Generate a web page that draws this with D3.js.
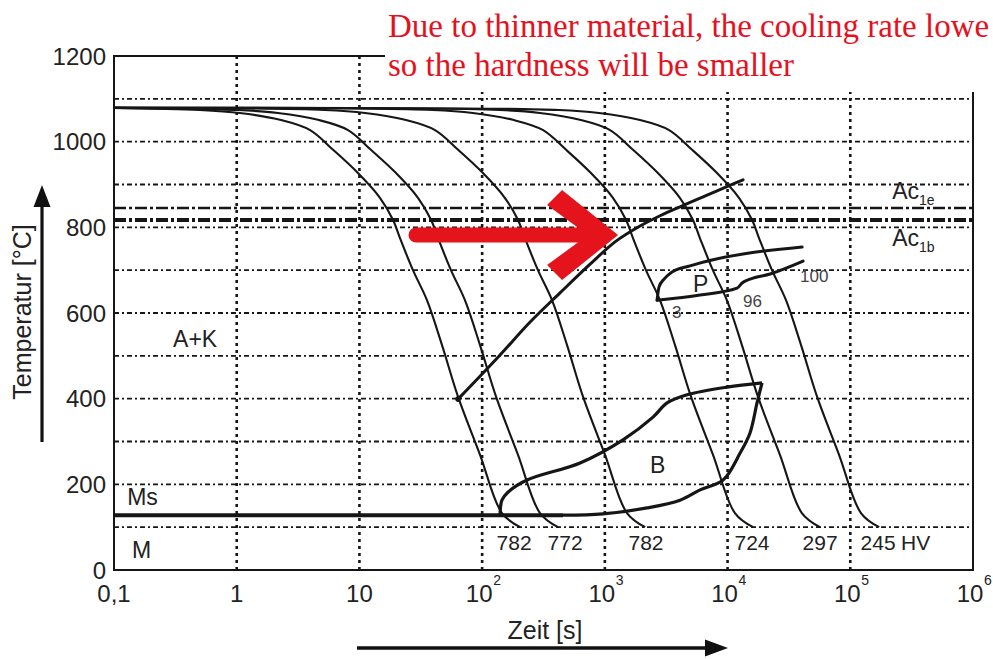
<!DOCTYPE html>
<html>
<head>
<meta charset="utf-8">
<script src="https://cdn.jsdelivr.net/npm/d3@7"></script>
<style>
  body { margin: 0; background: #fff; }
  svg { display: block; font-family: "Liberation Sans", Arial, sans-serif; }
</style>
</head>
<body>
<div id="chart"></div>
<script>
// CCT diagram (Zeit-Temperatur-Umwandlung, kontinuierlich)

const TIME_TICKS = [0.1, 1, 10, 1e2, 1e3, 1e4, 1e5, 1e6];
const TIME_TICK_BASE = ["0,1", "1", "10", "10", "10", "10", "10", "10"];
const TIME_TICK_EXP = ["", "", "", "2", "3", "4", "5", "6"];
const TIME_GRID = [1, 10, 1e2, 1e3, 1e4, 1e5];
const TEMP_TICKS = [0, 200, 400, 600, 800, 1000, 1200];
const TEMP_GRID = [100, 200, 300, 400, 500, 600, 700, 800, 900, 1000, 1100];

const AC1E = 845;
const AC1B = 817;
const MS_TEMP = 128;
const MS_END = 456;

// cooling curves [time s, temp °C]
const CURVE_1 = [[0.1,1079],[0.5,1074],[1.06,1067],[2.25,1051],[3.96,1027],[6.1,981],[9.55,929],[14.7,869],[18.8,817],[21.4,775],[27.3,700],[35.5,630],[47.1,525],[63.7,404],[96.1,269],[145,133],[204,100]];
const CURVE_2 = [[0.1,1079],[1.02,1074],[2.16,1067],[4.59,1051],[8.08,1027],[12.4,981],[19.5,929],[30,869],[38.4,817],[43.7,775],[55.7,700],[72.4,630],[96.1,525],[130,404],[196,269],[296,133],[416,100]];
const CURVE_3 = [[0.1,1079],[5.22,1074],[11.1,1067],[23.5,1051],[41.3,1027],[63.7,981],[99.7,929],[153,869],[196,817],[223,775],[285,700],[371,630],[492,525],[665,404],[1003,269],[1514,133],[2130,100]];
const CURVE_4 = [[0.1,1079],[39.6,1074],[84,1067],[178,1051],[314,1027],[483,981],[756,929],[1164,869],[1489,817],[1695,775],[2162,700],[2812,630],[3730,525],[5045,404],[7611,269],[11480,133],[16160,100]];
const CURVE_5 = [[0.1,1079],[139,1074],[295,1067],[626,1051],[1101,1027],[1696,981],[2655,929],[4087,869],[5226,817],[5949,775],[7589,700],[9869,630],[13090,525],[17710,404],[26720,269],[40310,133],[56710,100]];
const CURVE_6 = [[0.1,1079],[422,1074],[894,1067],[1897,1051],[3338,1027],[5142,981],[8051,929],[12390,869],[15850,817],[18040,775],[23010,700],[29930,630],[39710,525],[53700,404],[81010,269],[122200,133],[172000,100]];
const CURVES = [CURVE_1, CURVE_2, CURVE_3, CURVE_4, CURVE_5, CURVE_6];

const HARDNESS = ["782", "772", "782", "724", "297", "245"];
const HARDNESS_TIME = [182, 474, 2166, 15830, 56750, 168500];

// transformation lines
const FERRITE_START = [[63.6,399],[140,502],[246,579],[431,647],[758,714],[1211,766],[1936,803],[2818,827],[4102,848],[7201,878],[13375,911]];
const PEARLITE_START = [[2664,630],[2765,661],[3037,679],[3529,696],[4947,710],[40480,754]];
const PEARLITE_END = [[2664,630],[5968,642],[11950,658],[13130,670],[15260,679],[22210,691],[41240,721]];
const BAINITE_START = [[140,128],[145,163],[163,182],[232,210],[628,250],[1406,304],[2470,357],[3215,390],[4677,409],[9910,427],[19090,437]];
const BAINITE_END = [[456,128],[966,131],[2210,145],[4100,163],[5970,187],[9190,210],[12650,273],[15240,320],[17380,390],[19090,437]];

// text anchors [time, temp]
const REGION_LABELS = [
  { text: "A+K", t: 0.303, T: 521 },
  { text: "Ms", t: 0.128, T: 152 },
  { text: "M", t: 0.14, T: 28 },
  { text: "B", t: 2334, T: 226 },
  { text: "P", t: 5236, T: 649 }
];
const PCT_LABELS = [
  { text: "3", t: 3532, T: 588 },
  { text: "96", t: 13370, T: 614 },
  { text: "100", t: 38990, T: 672 }
];
const AC_LABEL_TIME = 219300;
const AC_LABEL_TEMP = [866, 756];
const AC_LABEL_SUB = ["1e", "1b"];

// red annotation arrow [time, temp]
const ARROW_SHAFT = [[28.9,782],[832,782]];
const ARROW_HEAD = [[338,852],[448,887],[1281,782],[448,677],[338,712],[729,782]];
const NOTE_LINES = ["Due to thinner material, the cooling rate lowe", "so the hardness will be smaller"];

const W = 993, H = 659;
const margin = { top: 56, right: 20, bottom: 89, left: 114 };

const svg = d3.select("#chart").append("svg").attr("width", W).attr("height", H);
svg.append("rect").attr("width", W).attr("height", H).attr("fill", "#fff");

const x = d3.scaleLog().domain([0.1, 1e6]).range([margin.left, W - margin.right]);
const y = d3.scaleLinear().domain([0, 1200]).range([H - margin.bottom, margin.top]);

const ink = "#161616";

// grid
svg.append("g").selectAll("line").data(TEMP_GRID).join("line")
  .attr("x1", x(0.1)).attr("x2", x(1e6))
  .attr("y1", d => y(d)).attr("y2", d => y(d))
  .attr("stroke", ink).attr("stroke-width", 1.8)
  .attr("stroke-dasharray", "5,3,2,3");

svg.append("g").selectAll("line").data(TIME_GRID).join("line")
  .attr("x1", d => x(d)).attr("x2", d => x(d))
  .attr("y1", y(0)).attr("y2", y(1200))
  .attr("stroke", ink).attr("stroke-width", 2.6)
  .attr("stroke-dasharray", "3,4");

// Ac lines
[AC1E, AC1B].forEach((t, i) => {
  svg.append("line")
    .attr("x1", x(0.1)).attr("x2", x(1e6))
    .attr("y1", y(t)).attr("y2", y(t))
    .attr("stroke", ink).attr("stroke-width", i === 0 ? 2.6 : 4)
    .attr("stroke-dasharray", "12,3,3,3");
});

// frame
svg.append("rect")
  .attr("x", x(0.1)).attr("y", y(1200))
  .attr("width", x(1e6) - x(0.1)).attr("height", y(0) - y(1200))
  .attr("fill", "none").attr("stroke", ink).attr("stroke-width", 2);

const line = d3.line().x(d => x(d[0])).y(d => y(d[1])).curve(d3.curveMonotoneX);
const smooth = d3.line().x(d => x(d[0])).y(d => y(d[1])).curve(d3.curveCatmullRom.alpha(0.5));

// cooling curves
svg.append("g").selectAll("path").data(CURVES).join("path")
  .attr("d", smooth)
  .attr("fill", "none").attr("stroke", ink).attr("stroke-width", 2.1);

// Ms line
svg.append("line")
  .attr("x1", x(0.1)).attr("x2", x(MS_END))
  .attr("y1", y(MS_TEMP)).attr("y2", y(MS_TEMP))
  .attr("stroke", ink).attr("stroke-width", 4);

// transformation lines
[FERRITE_START, PEARLITE_START, PEARLITE_END].forEach(d => {
  svg.append("path").datum(d).attr("d", line)
    .attr("fill", "none").attr("stroke", ink).attr("stroke-width", 3)
    .attr("stroke-linecap", "round");
});
[BAINITE_START, BAINITE_END].forEach(d => {
  svg.append("path").datum(d).attr("d", smooth)
    .attr("fill", "none").attr("stroke", ink).attr("stroke-width", 3.2)
    .attr("stroke-linejoin", "round");
});
svg.append("circle")
  .attr("cx", x(FERRITE_START[0][0])).attr("cy", y(FERRITE_START[0][1]))
  .attr("r", 2.8).attr("fill", ink);

// hardness labels
svg.append("g").selectAll("text").data(HARDNESS).join("text")
  .attr("x", (d, i) => x(HARDNESS_TIME[i]))
  .attr("y", y(46))
  .attr("text-anchor", "middle")
  .style("font-size", "21px").attr("fill", "#222")
  .text(d => d);
svg.append("text")
  .attr("x", x(HARDNESS_TIME[5]) + 23).attr("y", y(46))
  .style("font-size", "21px").attr("fill", "#222")
  .text("HV");

// region labels
svg.append("g").selectAll("text").data(REGION_LABELS).join("text")
  .attr("x", d => x(d.t)).attr("y", d => y(d.T))
  .style("font-size", "23px").attr("fill", "#222")
  .text(d => d.text);
svg.append("g").selectAll("text").data(PCT_LABELS).join("text")
  .attr("x", d => x(d.t)).attr("y", d => y(d.T))
  .style("font-size", "17px").attr("fill", "#444")
  .text(d => d.text);

AC_LABEL_TEMP.forEach((T, i) => {
  const t = svg.append("text")
    .attr("x", x(AC_LABEL_TIME)).attr("y", y(T))
    .style("font-size", "23px").attr("fill", "#222");
  t.append("tspan").text("Ac");
  t.append("tspan").attr("dy", 6).style("font-size", "14px").text(AC_LABEL_SUB[i]);
});

// white box behind note
svg.append("rect")
  .attr("x", 385).attr("y", 0)
  .attr("width", W - 385).attr("height", 92)
  .attr("fill", "#fff");

// red arrow
const red = "#e5141c";
svg.append("path").datum(ARROW_SHAFT)
  .attr("d", d3.line().x(d => x(d[0])).y(d => y(d[1])))
  .attr("stroke", red).attr("stroke-width", 15).attr("stroke-linecap", "round");
svg.append("path").datum(ARROW_HEAD)
  .attr("d", d => d3.line().x(p => x(p[0])).y(p => y(p[1]))(d) + "Z")
  .attr("fill", red);

// note text
svg.append("g").selectAll("text").data(NOTE_LINES).join("text")
  .attr("x", 388).attr("y", (d, i) => 37 + i * 39)
  .style("font-family", "'Liberation Serif', 'Times New Roman', serif")
  .style("font-size", "33px").attr("fill", "#e8101c")
  .text(d => d);

// y tick labels
svg.append("g").selectAll("text").data(TEMP_TICKS).join("text")
  .attr("x", margin.left - 8).attr("y", d => y(d)).attr("dy", "0.36em")
  .attr("text-anchor", "end")
  .style("font-size", "24px").attr("fill", "#222")
  .text(d => d);

// x tick labels
const xl = svg.append("g");
TIME_TICKS.forEach((d, i) => {
  const exp = TIME_TICK_EXP[i];
  xl.append("text")
    .attr("x", exp ? x(d) - 3 : x(d)).attr("y", H - margin.bottom + 32)
    .attr("text-anchor", "middle")
    .style("font-size", "24px").attr("fill", "#222")
    .text(TIME_TICK_BASE[i]);
  if (exp) {
    xl.append("text")
      .attr("x", x(d) + 11).attr("y", H - margin.bottom + 15)
      .style("font-size", "14px").attr("fill", "#222")
      .text(exp);
  }
});

// axis titles
svg.append("text")
  .attr("transform", "translate(31,312) rotate(-90)")
  .attr("text-anchor", "middle")
  .style("font-size", "25px").attr("fill", "#222")
  .text("Temperatur [°C]");
svg.append("text")
  .attr("x", 545).attr("y", H - 20)
  .attr("text-anchor", "middle")
  .style("font-size", "25px").attr("fill", "#222")
  .text("Zeit [s]");

// axis arrows
svg.append("line").attr("x1", 42).attr("x2", 42).attr("y1", 442).attr("y2", 200)
  .attr("stroke", "#111").attr("stroke-width", 3.2);
svg.append("path").attr("d", "M42,185 L33.5,207 L50.5,207 Z").attr("fill", "#111");
svg.append("line").attr("x1", 357).attr("x2", 712).attr("y1", 648).attr("y2", 648)
  .attr("stroke", "#111").attr("stroke-width", 3.6);
svg.append("path").attr("d", "M728,648 L705,639.5 L705,656.5 Z").attr("fill", "#111");
</script>
</body>
</html>
